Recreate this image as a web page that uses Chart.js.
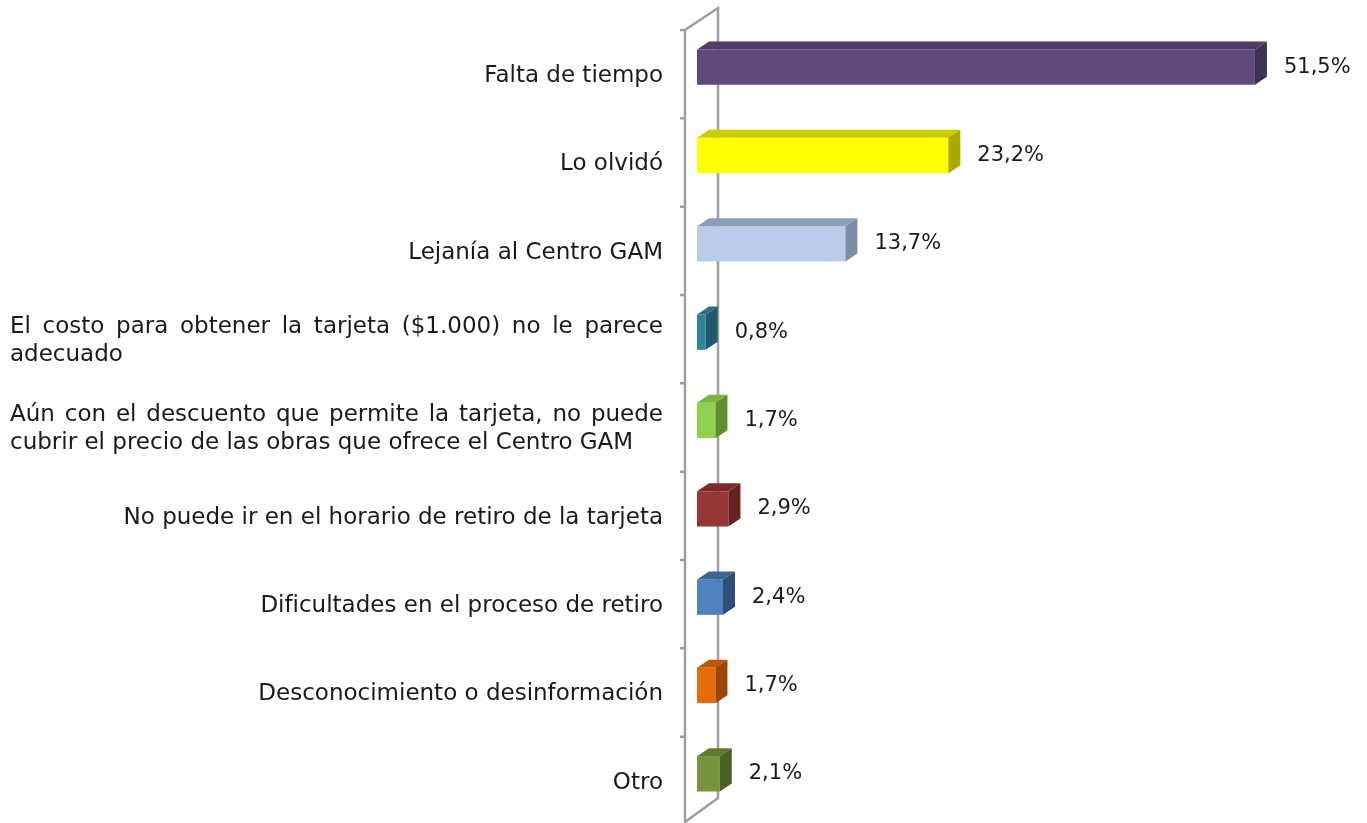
<!DOCTYPE html>
<html lang="es">
<head>
<meta charset="UTF-8">
<title>Motivos para no retirar la tarjeta - Centro GAM</title>
<script src="https://cdn.jsdelivr.net/npm/chart.js"></script>
<style>
  body { margin: 0; background: #fff; }
  #contenedor { width: 1367px; height: 823px; }
</style>
</head>
<body>
<div id="contenedor"><canvas id="graficoMotivos"></canvas></div>
<script>
// Datos del gráfico
const categorias = [
  ['Falta de tiempo'],
  ['Lo olvidó'],
  ['Lejanía al Centro GAM'],
  ['El costo para obtener la tarjeta ($1.000) no le parece', 'adecuado'],
  ['Aún con el descuento que permite la tarjeta, no puede', 'cubrir el precio de las obras que ofrece el Centro GAM'],
  ['No puede ir en el horario de retiro de la tarjeta'],
  ['Dificultades en el proceso de retiro'],
  ['Desconocimiento o desinformación'],
  ['Otro']
];
const porcentajes = [51.5, 23.2, 13.7, 0.8, 1.7, 2.9, 2.4, 1.7, 2.1];

// Colores: cara frontal, superior y lateral
const coloresFrente = ['#604a7b', '#ffff00', '#b9cdea', '#31859c', '#92d050', '#953735', '#4f81bd', '#e46c0a', '#77933c'];
const coloresArriba = ['#4e3d66', '#cccc00', '#8d9fb7', '#2a7085', '#79b340', '#7b2c2a', '#3d6393', '#bd5807', '#60792f'];
const coloresLado   = ['#403254', '#a9a900', '#7c8da4', '#215a6a', '#5f8f31', '#642120', '#2f4e75', '#994606', '#4c6126'];

const FUENTE = '"DejaVu Sans", sans-serif';
const TAM_CAT = 23;
const TAM_VALOR = 21;
const PROF_X = 12, PROF_Y = -8;   // profundidad 3D
const ANCHO_JUSTIFICADO = 653;

function textoJustificado(ctx, linea, xDer, y, ancho) {
  const palabras = linea.split(' ');
  const medidas = palabras.map(p => ctx.measureText(p).width);
  const total = medidas.reduce((a, b) => a + b, 0);
  const espacio = (ancho - total) / (palabras.length - 1);
  let x = xDer - ancho;
  ctx.textAlign = 'left';
  palabras.forEach((p, i) => {
    ctx.fillText(p, x, y);
    x += medidas[i] + espacio;
  });
}

const efecto3D = {
  id: 'efecto3D',
  beforeDatasetsDraw(chart) {
    const { ctx, chartArea: a } = chart;
    const paso = (a.bottom - a.top) / categorias.length;
    const xf = a.left - 12, xb = a.left + 21;
    const topF = a.top + 7, topB = a.top - 15;
    const botF = a.bottom + 4, botB = a.bottom - 20;
    ctx.save();
    ctx.strokeStyle = '#9ca0a4';
    ctx.lineWidth = 2.5;
    ctx.beginPath();
    ctx.moveTo(xf, botF + 10);
    ctx.lineTo(xf, topF);
    ctx.lineTo(xb, topB);
    ctx.lineTo(xb, botB);
    ctx.lineTo(xf, botF);
    for (let i = 0; i <= categorias.length; i++) {
      const y = topF + i * paso;
      ctx.moveTo(xf - 5, y);
      ctx.lineTo(xf, y);
    }
    ctx.stroke();
    ctx.restore();
  },
  afterDatasetsDraw(chart) {
    const { ctx } = chart;
    const meta = chart.getDatasetMeta(0);
    ctx.save();
    meta.data.forEach((barra, i) => {
      const { x, y, base, height } = barra.getProps(['x', 'y', 'base', 'height'], true);
      const y0 = y - height / 2, y1 = y + height / 2;
      // cara superior
      ctx.fillStyle = coloresArriba[i];
      ctx.beginPath();
      ctx.moveTo(base, y0);
      ctx.lineTo(base + PROF_X, y0 + PROF_Y);
      ctx.lineTo(x + PROF_X, y0 + PROF_Y);
      ctx.lineTo(x, y0);
      ctx.closePath();
      ctx.fill();
      // cara lateral
      ctx.fillStyle = coloresLado[i];
      ctx.beginPath();
      ctx.moveTo(x, y0);
      ctx.lineTo(x + PROF_X, y0 + PROF_Y);
      ctx.lineTo(x + PROF_X, y1 + PROF_Y);
      ctx.lineTo(x, y1);
      ctx.closePath();
      ctx.fill();
      // etiqueta de valor
      ctx.fillStyle = '#1a1a1a';
      ctx.font = TAM_VALOR + 'px ' + FUENTE;
      ctx.textAlign = 'left';
      ctx.textBaseline = 'middle';
      ctx.fillText(porcentajes[i].toFixed(1).replace('.', ',') + '%', x + 29, y);
    });
    ctx.restore();
  },
  afterDraw(chart) {
    const { ctx, chartArea: a } = chart;
    const meta = chart.getDatasetMeta(0);
    const xDer = a.left - 34;
    const interlineado = 28;
    ctx.save();
    ctx.fillStyle = '#1a1a1a';
    ctx.font = TAM_CAT + 'px ' + FUENTE;
    ctx.textBaseline = 'middle';
    meta.data.forEach((barra, i) => {
      const lineas = categorias[i];
      const yc = barra.y + 9 - (lineas.length - 1) * interlineado / 2;
      lineas.forEach((linea, j) => {
        const y = yc + j * interlineado;
        if (lineas.length > 1 && j < lineas.length - 1) {
          textoJustificado(ctx, linea, xDer, y, ANCHO_JUSTIFICADO);
        } else if (lineas.length > 1) {
          ctx.textAlign = 'left';
          ctx.fillText(linea, xDer - ANCHO_JUSTIFICADO, y);
        } else {
          ctx.textAlign = 'right';
          ctx.fillText(linea, xDer, y);
        }
      });
    });
    ctx.restore();
  }
};

const ctx = document.getElementById('graficoMotivos').getContext('2d');
new Chart(ctx, {
  type: 'bar',
  data: {
    labels: categorias,
    datasets: [{
      data: porcentajes,
      backgroundColor: coloresFrente,
      borderWidth: 0,
      barPercentage: 0.4,
      categoryPercentage: 1
    }]
  },
  options: {
    indexAxis: 'y',
    responsive: true,
    maintainAspectRatio: false,
    animation: false,
    layout: { padding: { left: 697, right: 20, top: 23, bottom: 5 } },
    scales: {
      x: { display: false, min: 0, max: 60 },
      y: { display: false }
    },
    plugins: {
      legend: { display: false },
      tooltip: { enabled: false }
    }
  },
  plugins: [efecto3D]
});
</script>
</body>
</html>
